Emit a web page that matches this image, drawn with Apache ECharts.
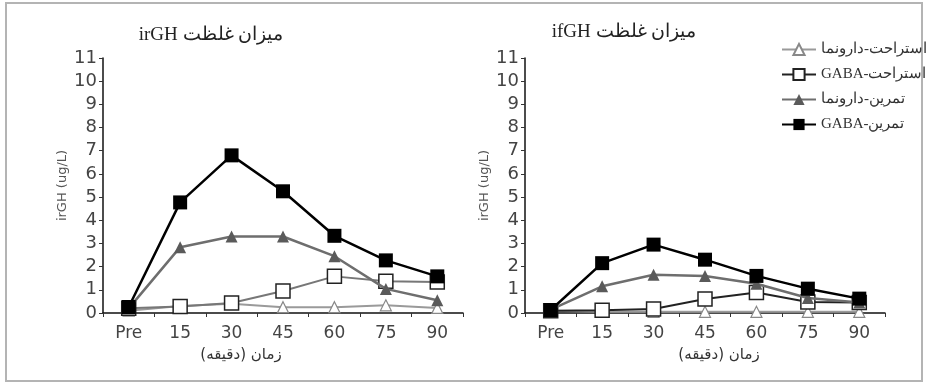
<!DOCTYPE html>
<html>
	<head>
		<meta charset="UTF-8">
		<title></title>
		<script src="https://cdn.jsdelivr.net/npm/echarts@6/dist/echarts.min.js"></script>
		<style type="text/css">
			html, body { margin: 0; padding: 0; background: #fff; }
		</style>
	</head>
	<body>
		<div id="box" style="width:932px;height:384px;"></div>

		<script type="text/javascript">
			// categories and tick labels
			var times = ['Pre', '15', '30', '45', '60', '75', '90'];
			var names = ['استراحت-دارونما', 'استراحت-GABA', 'تمرین-دارونما', 'تمرین-GABA'];

			// irGH (left chart)
			var irRestPlacebo = [0.1, 0.3, 0.4, 0.25, 0.25, 0.33, 0.22];
			var irRestGaba    = [0.2, 0.28, 0.43, 0.95, 1.58, 1.37, 1.34];
			var irExPlacebo   = [0.2, 2.84, 3.3, 3.3, 2.45, 1.04, 0.55];
			var irExGaba      = [0.26, 4.77, 6.8, 5.25, 3.33, 2.27, 1.58];

			// ifGH (right chart)
			var ifRestPlacebo = [0.1, 0.05, 0.05, 0.05, 0.05, 0.05, 0.05];
			var ifRestGaba    = [0.1, 0.12, 0.17, 0.6, 0.88, 0.47, 0.45];
			var ifExPlacebo   = [0.15, 1.15, 1.65, 1.6, 1.26, 0.65, 0.45];
			var ifExGaba      = [0.13, 2.15, 2.95, 2.3, 1.6, 1.05, 0.62];

			function rtl(s) { return '\u202B' + s + '\u202C'; }

			var myChart = echarts.init(document.getElementById('box'));

			function makeSeries(idx, data, restGabaLine) {
				return [{
					name: names[0], type: 'line', xAxisIndex: idx, yAxisIndex: idx,
					data: data[0], symbol: 'triangle', symbolSize: 11,
					lineStyle: { color: '#9a9a9a', width: 2 },
					itemStyle: { color: '#fff', borderColor: '#888', borderWidth: 1.2 },
					z: 2
				}, {
					name: names[1], type: 'line', xAxisIndex: idx, yAxisIndex: idx,
					data: data[1], symbol: 'rect', symbolSize: 14,
					lineStyle: { color: restGabaLine, width: 2 },
					itemStyle: { color: '#fff', borderColor: '#222', borderWidth: 1.5 },
					z: 3
				}, {
					name: names[2], type: 'line', xAxisIndex: idx, yAxisIndex: idx,
					data: data[2], symbol: 'triangle', symbolSize: 12,
					lineStyle: { color: '#6e6e6e', width: 2.5 },
					itemStyle: { color: '#5a5a5a', borderColor: '#5a5a5a', borderWidth: 0 },
					z: 4
				}, {
					name: names[3], type: 'line', xAxisIndex: idx, yAxisIndex: idx,
					data: data[3], symbol: 'rect', symbolSize: 14,
					lineStyle: { color: '#000', width: 2.5 },
					itemStyle: { color: '#000', borderColor: '#000', borderWidth: 0 },
					z: 5
				}];
			}

			function xAx(idx) {
				return {
					type: 'category', gridIndex: idx, data: times, boundaryGap: true,
					axisLine: { lineStyle: { color: '#111', width: 1.5 } },
					axisTick: { show: true, length: 4, lineStyle: { color: '#333' } },
					axisLabel: { color: '#444', fontSize: 17, margin: 12, fontFamily: 'DejaVu Sans' }
				};
			}
			function yAx(idx) {
				return {
					type: 'value', gridIndex: idx, min: 0, max: 11, interval: 1,
					name: 'irGH (ug/L)', nameLocation: 'middle', nameGap: 34, nameRotate: 90,
					nameTextStyle: { color: '#555', fontSize: 13, fontFamily: 'DejaVu Sans' },
					axisLine: { show: true, lineStyle: { color: '#111', width: 1.5 } },
					axisTick: { show: true, length: 4, lineStyle: { color: '#333' } },
					axisLabel: { color: '#444', fontSize: 18, margin: 6, fontFamily: 'DejaVu Sans' },
					splitLine: { show: false }
				};
			}

			var option = {
				animation: false,
				backgroundColor: '#fff',
				legend: {
					data: [
						{ name: names[0] },
						{ name: names[1], lineStyle: { color: '#222' } },
						{ name: names[2] },
						{ name: names[3] }
					],
					orient: 'vertical', left: 776, top: 37,
					itemWidth: 34, itemHeight: 14, itemGap: 10,
					formatter: function (n) { return rtl(n); },
					textStyle: { color: '#333', fontSize: 15, fontFamily: 'Liberation Serif' }
				},
				grid: [
					{ left: 103, top: 58, width: 360, height: 255 },
					{ left: 525, top: 58, width: 360, height: 255 }
				],
				xAxis: [xAx(0), xAx(1)],
				yAxis: [yAx(0), yAx(1)],
				graphic: [
					{ type: 'rect', shape: { x: 6, y: 3, width: 916, height: 378 },
					  style: { fill: 'none', stroke: '#b4b4b4', lineWidth: 2 }, silent: true },
					{ type: 'text', x: 211, y: 35,
					  style: { text: rtl('میزان غلظت irGH'), font: '19px "Liberation Serif"', fill: '#222', textAlign: 'center', textVerticalAlign: 'middle' } },
					{ type: 'text', x: 624, y: 32,
					  style: { text: rtl('میزان غلظت ifGH'), font: '19px "Liberation Serif"', fill: '#222', textAlign: 'center', textVerticalAlign: 'middle' } },
					{ type: 'text', x: 241, y: 355,
					  style: { text: rtl('زمان (دقیقه)'), font: '15px "DejaVu Sans"', fill: '#333', textAlign: 'center', textVerticalAlign: 'middle' } },
					{ type: 'text', x: 719, y: 355,
					  style: { text: rtl('زمان (دقیقه)'), font: '15px "DejaVu Sans"', fill: '#333', textAlign: 'center', textVerticalAlign: 'middle' } }
				],
				series: [].concat(
					makeSeries(0, [irRestPlacebo, irRestGaba, irExPlacebo, irExGaba], '#777'),
					makeSeries(1, [ifRestPlacebo, ifRestGaba, ifExPlacebo, ifExGaba], '#222')
				)
			};
			myChart.setOption(option);
		</script>
	</body>
</html>
